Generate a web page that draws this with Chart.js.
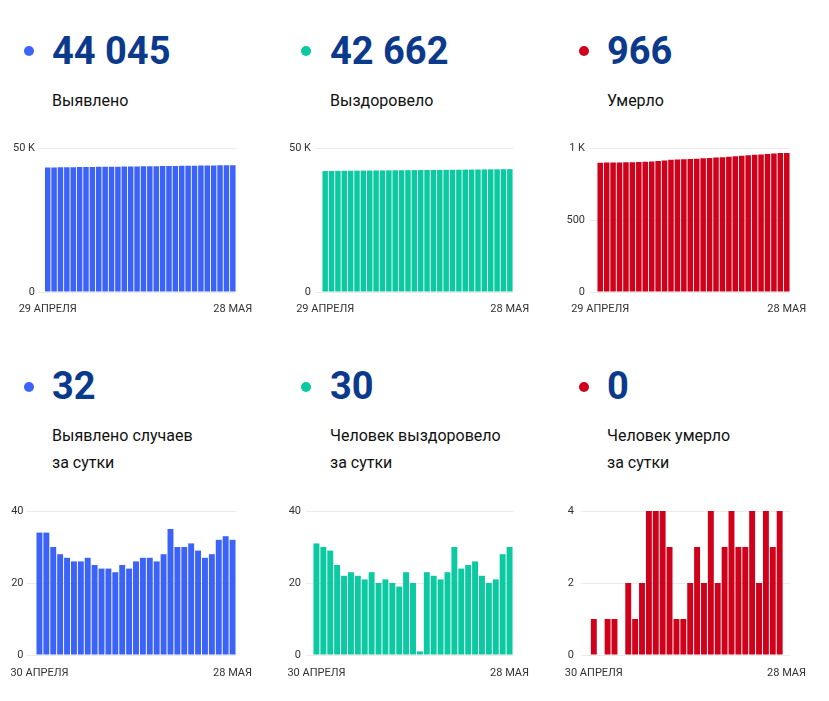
<!DOCTYPE html>
<html>
<head>
<meta charset="utf-8">
<script src="https://cdn.jsdelivr.net/npm/chart.js@4.4.1/dist/chart.umd.min.js"></script>
<style>
  html, body { margin: 0; padding: 0; background: #fff; }
  body { width: 829px; height: 701px; position: relative; overflow: hidden; font-family: Roboto, 'Noto Sans', sans-serif; }
  .dot { position: absolute; width: 10px; height: 10px; border-radius: 50%; }
  .num { position: absolute; font-size: 38px; line-height: 38px; font-weight: 700; color: #0b3a8c; white-space: nowrap; }
  .lbl { position: absolute; font-size: 16px; line-height: 27px; color: #111; white-space: nowrap; }
  .box { position: absolute; width: 262px; height: 186px; }
</style>
</head>
<body>

<!-- верхний ряд -->
<div class="dot" style="left:24px; top:46px; background:#3b63f7"></div>
<div class="num" style="left:52px; top:32px">44 045</div>
<div class="lbl" style="left:52px; top:87px">Выявлено</div>

<div class="dot" style="left:301px; top:46px; background:#0bc9a0"></div>
<div class="num" style="left:330px; top:32px">42 662</div>
<div class="lbl" style="left:330px; top:87px">Выздоровело</div>

<div class="dot" style="left:579px; top:46px; background:#d0021b"></div>
<div class="num" style="left:607px; top:32px">966</div>
<div class="lbl" style="left:607px; top:87px">Умерло</div>

<!-- нижний ряд -->
<div class="dot" style="left:24px; top:382px; background:#3b63f7"></div>
<div class="num" style="left:52px; top:367px">32</div>
<div class="lbl" style="left:52px; top:422px">Выявлено случаев<br>за сутки</div>

<div class="dot" style="left:301px; top:382px; background:#0bc9a0"></div>
<div class="num" style="left:330px; top:367px">30</div>
<div class="lbl" style="left:330px; top:422px">Человек выздоровело<br>за сутки</div>

<div class="dot" style="left:579px; top:382px; background:#d0021b"></div>
<div class="num" style="left:607px; top:367px">0</div>
<div class="lbl" style="left:607px; top:422px">Человек умерло<br>за сутки</div>

<div class="box" style="left:0px; top:138px"><canvas id="casesTotal"></canvas></div>
<div class="box" style="left:278px; top:138px"><canvas id="recoveredTotal"></canvas></div>
<div class="box" style="left:552px; top:138px"><canvas id="deathsTotal"></canvas></div>
<div class="box" style="left:0px; top:501px"><canvas id="casesDaily"></canvas></div>
<div class="box" style="left:278px; top:501px"><canvas id="recoveredDaily"></canvas></div>
<div class="box" style="left:552px; top:501px"><canvas id="deathsDaily"></canvas></div>

<script>
// ===== Даты =====
const daysTop = [
  '29 АПРЕЛЯ', '30 АПРЕЛЯ', '1 МАЯ', '2 МАЯ', '3 МАЯ', '4 МАЯ', '5 МАЯ', '6 МАЯ', '7 МАЯ', '8 МАЯ',
  '9 МАЯ', '10 МАЯ', '11 МАЯ', '12 МАЯ', '13 МАЯ', '14 МАЯ', '15 МАЯ', '16 МАЯ', '17 МАЯ', '18 МАЯ',
  '19 МАЯ', '20 МАЯ', '21 МАЯ', '22 МАЯ', '23 МАЯ', '24 МАЯ', '25 МАЯ', '26 МАЯ', '27 МАЯ', '28 МАЯ'
];
const daysDaily = daysTop.slice(1); // с 30 апреля

const ticksTop = ['29 АПРЕЛЯ', '28 МАЯ'];
const ticksDaily = ['30 АПРЕЛЯ', '28 МАЯ'];

// ===== Накопленные значения =====
const casesTotal = [
  43227, 43261, 43295, 43325, 43353, 43380, 43406, 43432, 43459, 43484,
  43508, 43532, 43555, 43580, 43604, 43630, 43657, 43684, 43710, 43738,
  43773, 43803, 43833, 43864, 43893, 43920, 43948, 43980, 44013, 44045
];
const recoveredTotal = [
  41997, 42028, 42058, 42087, 42112, 42134, 42157, 42179, 42200, 42223,
  42243, 42264, 42284, 42303, 42326, 42346, 42347, 42370, 42392, 42413,
  42436, 42466, 42490, 42515, 42541, 42563, 42583, 42604, 42632, 42662
];
const deathsTotal = [
  898, 899, 899, 900, 901, 901, 903, 904, 906, 910,
  914, 918, 921, 922, 923, 925, 928, 930, 934, 936,
  939, 943, 946, 949, 953, 955, 959, 962, 966, 966
];

// ===== За сутки =====
const casesDaily = [34, 34, 30, 28, 27, 26, 26, 27, 25, 24, 24, 23, 25, 24, 26, 27, 27, 26, 28, 35, 30, 30, 31, 29, 27, 28, 32, 33, 32];
const recoveredDaily = [31, 30, 29, 25, 22, 23, 22, 21, 23, 20, 21, 20, 19, 23, 20, 1, 23, 22, 21, 23, 30, 24, 25, 26, 22, 20, 21, 28, 30];
const deathsDaily = [0, 1, 0, 1, 1, 0, 2, 1, 2, 4, 4, 4, 3, 1, 1, 2, 3, 2, 4, 2, 3, 4, 3, 3, 4, 2, 4, 3, 4, 0];

const BLUE = '#3b63f7';
const GREEN = '#0bc9a0';
const RED = '#d0021b';

Chart.defaults.font.family = "Roboto, 'Noto Sans', sans-serif";
Chart.defaults.font.size = 11;
Chart.defaults.color = '#333';

function fmtK(v) {
  return v >= 1000 ? (v / 1000) + ' K' : v;
}

function makeBar(id, labels, values, color, tickLabels, o) {
  new Chart(document.getElementById(id), {
    type: 'bar',
    data: {
      labels: labels,
      datasets: [{ data: values, backgroundColor: color, borderWidth: 0, barPercentage: 0.86, categoryPercentage: 1 }]
    },
    options: {
      responsive: true,
      maintainAspectRatio: false,
      animation: false,
      layout: { padding: { top: 10, right: o.padRight, left: 0, bottom: 0 } },
      plugins: { legend: { display: false }, tooltip: { enabled: false } },
      scales: {
        x: {
          grid: { display: false, drawTicks: false },
          border: { display: false },
          ticks: {
            autoSkip: false, maxRotation: 0, padding: o.xPad,
            callback: function (val, i) {
              const l = this.getLabelForValue(val);
              return tickLabels.includes(l) ? l : '';
            }
          },
          // подписи дат не должны сдвигать область графика
          afterFit: s => { s.height = 32; s.paddingLeft = 0; s.paddingRight = 0; }
        },
        y: {
          min: 0, max: o.max,
          grid: { color: '#ebebeb', tickLength: o.tl },
          border: { display: false },
          ticks: { stepSize: o.step, padding: o.yPad, callback: fmtK },
          afterFit: s => { s.width = o.axisW; s.paddingTop = 0; s.paddingBottom = 0; }
        }
      }
    }
  });
}

// верхние графики
makeBar('casesTotal', daysTop, casesTotal, BLUE, ticksTop, { max: 50000, step: 50000, axisW: 44.5, padRight: 26, tl: 7, yPad: 2.5, xPad: 11 });
makeBar('recoveredTotal', daysTop, recoveredTotal, GREEN, ticksTop, { max: 50000, step: 50000, axisW: 44, padRight: 27, tl: 7, yPad: 4, xPad: 11 });
makeBar('deathsTotal', daysTop, deathsTotal, RED, ticksTop, { max: 1000, step: 500, axisW: 45, padRight: 24, tl: 7, yPad: 5, xPad: 11 });

// нижние графики
makeBar('casesDaily', daysDaily, casesDaily, BLUE, ticksDaily, { max: 40, step: 20, axisW: 36, padRight: 26, tl: 9, yPad: 3.5, xPad: 12 });
makeBar('recoveredDaily', daysDaily, recoveredDaily, GREEN, ticksDaily, { max: 40, step: 20, axisW: 35, padRight: 27, tl: 7, yPad: 5, xPad: 12 });
makeBar('deathsDaily', daysTop, deathsDaily, RED, ticksDaily, { max: 4, step: 2, axisW: 31.5, padRight: 24, tl: 2, yPad: 7.5, xPad: 12 });
</script>
</body>
</html>
